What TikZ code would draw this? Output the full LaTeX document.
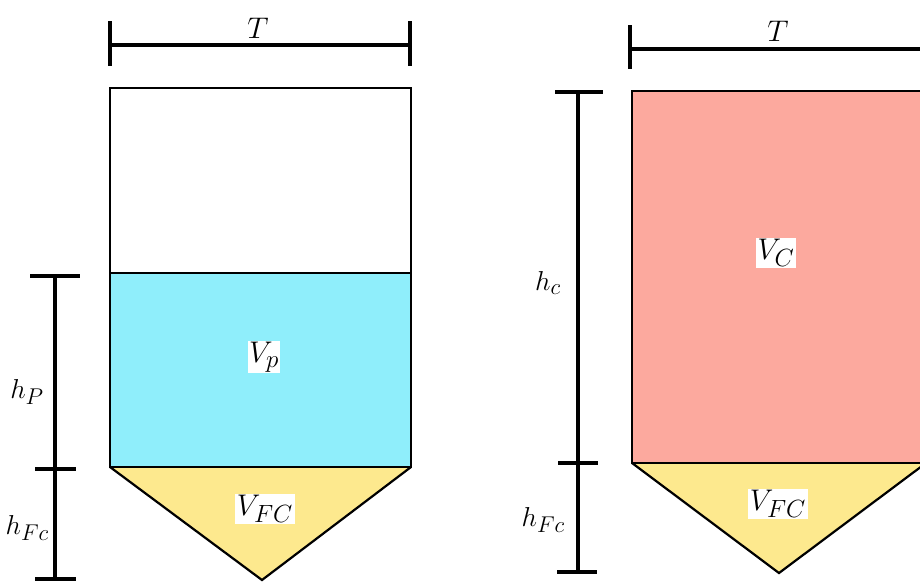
\documentclass[tikz,border=0pt]{standalone}
\newcommand{\tanklbl}[1]{\scalebox{1.2}{\Huge$#1$}}
\newcommand{\dimlbl}[1]{\scalebox{1.1}{\Huge$#1$}}
\begin{document}
\begin{tikzpicture}[x=1pt,y=-1pt,
  dimline/.style={line width=3.5pt},
  tankline/.style={line width=2.2pt, line join=miter},
  lbl/.style={inner sep=1pt},
  vlbl/.style={fill=white, inner sep=1.5pt}]
\clip (0,0) rectangle (920,581);
\definecolor{cyanliq}{HTML}{8FEEFB}
\definecolor{yel}{HTML}{FDE98E}
\definecolor{pinkliq}{HTML}{FCA99E}
% ---- left tank ----
\coordinate (LTL) at (110,88);
\coordinate (LLL) at (110,273);
\coordinate (LLR) at (411,273);
\coordinate (LBL) at (110,467);
\coordinate (LBR) at (411,467);
\coordinate (LAP) at (262,580);
\fill[cyanliq] (LLL) rectangle (LBR);
\fill[yel] (LBL) -- (LBR) -- (LAP) -- cycle;
\draw[tankline] (LTL) rectangle (LBR);
\draw[tankline] (LLL) -- (LLR);
\draw[tankline] (LBL) -- (LAP) -- (LBR);
\node[vlbl] (vp) at (264,357) {\tanklbl{V_p}};
\node[vlbl] (vfc1) at (265,509) {\tanklbl{V_{FC}}};
% top dimension left
\draw[dimline] (110,45) -- (410,45);
\draw[dimline] (110,21) -- (110,66);
\draw[dimline] (410,21) -- (410,66);
\node[lbl] (T1) at (258,28) {\tanklbl{T}};
% left vertical dimension
\draw[dimline] (55,276) -- (55,581);
\draw[dimline] (30,276) -- (80,276);
\draw[dimline] (35,469) -- (76,469);
\draw[dimline] (35,579) -- (76,579);
\node[lbl, anchor=east] (hp) at (45,392) {\dimlbl{h_P}};
\node[lbl, anchor=east] (hfc1) at (50,528) {\dimlbl{h_{Fc}}};
% ---- right tank ----
\coordinate (RTL) at (632,91);
\coordinate (RBL) at (632,463);
\coordinate (RBR) at (926,463);
\coordinate (RAP) at (779,573);
\fill[pinkliq] (RTL) rectangle (RBR);
\fill[yel] (RBL) -- (RBR) -- (RAP) -- cycle;
\draw[tankline] (RTL) rectangle (RBR);
\draw[tankline] (RBL) -- (RAP) -- (RBR);
\node[vlbl] (vc) at (776,253) {\tanklbl{V_C}};
\node[vlbl] (vfc2) at (778,504) {\tanklbl{V_{FC}}};
% top dimension right
\draw[dimline] (630,49) -- (930,49);
\draw[dimline] (630,25) -- (630,69);
\node[lbl] (T2) at (778,31) {\tanklbl{T}};
% right vertical dimension
\draw[dimline] (578,92) -- (578,572);
\draw[dimline] (555,92) -- (603,92);
\draw[dimline] (558,463) -- (598,463);
\draw[dimline] (557,572) -- (597,572);
\node[lbl, anchor=east] (hc) at (562,283) {\dimlbl{h_c}};
\node[lbl, anchor=east] (hfc2) at (566,520) {\dimlbl{h_{Fc}}};
\end{tikzpicture}
\end{document}
